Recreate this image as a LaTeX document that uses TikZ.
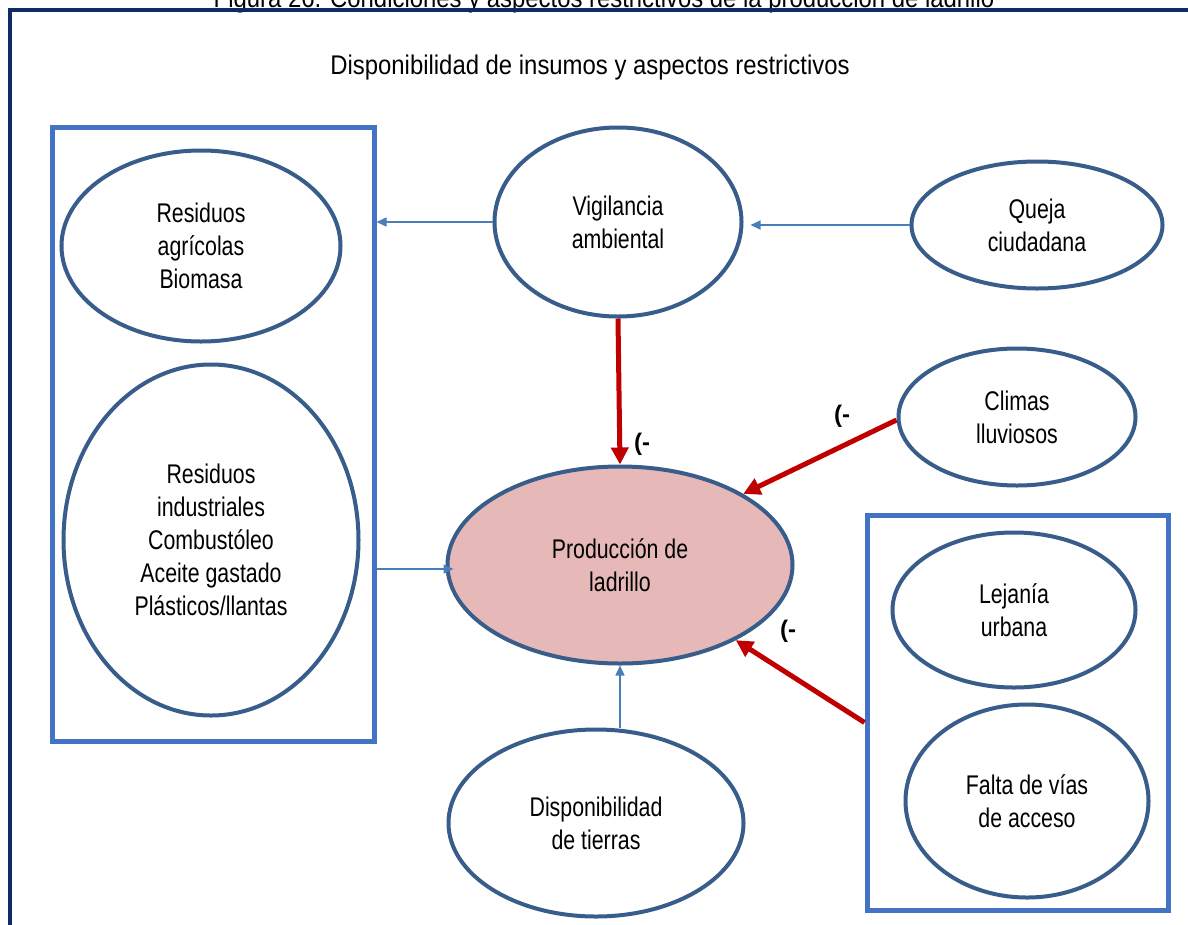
\documentclass[tikz,border=0pt]{standalone}
\usepackage{fontspec}
\setmainfont{Liberation Sans}[FakeStretch=0.79]
\newfontfamily\subfont{Liberation Sans}[FakeStretch=0.885]
\newfontfamily\signfont{Liberation Sans}
\usetikzlibrary{shapes.geometric,arrows.meta,calc}
\definecolor{ellblue}{HTML}{385D8A}
\definecolor{boxblue}{HTML}{4472C4}
\definecolor{frameblue}{HTML}{0F2A64}
\definecolor{arrred}{HTML}{C00000}
\definecolor{prodfill}{HTML}{E6B9B8}
\definecolor{thinblue}{HTML}{4A7EBB}
\begin{document}
\begin{tikzpicture}[x=1pt,y=-1pt,
  oval/.style={ellipse, draw=ellblue, line width=4pt, fill=white, inner sep=0pt, align=center, font=\fontsize{27}{33}\selectfont},
  groupbox/.style={draw=boxblue, line width=5pt, inner sep=0pt},
  thinarrow/.style={draw=thinblue, line width=1.5pt, -{Triangle[length=10pt,width=9pt]}},
  negarrow/.style={draw=arrred, line width=5pt, -{Triangle[length=17pt,width=17pt]}},
  signlabel/.style={font=\signfont\bfseries\fontsize{24}{28}\selectfont}
]
\useasboundingbox (0,0) rectangle (1188,924);
\begin{scope}
\clip (0,0) rectangle (1188,924);
\fill[white] (0,0) rectangle (1188,924);
\node[anchor=base, font=\subfont\fontsize{27}{33}\selectfont, inner sep=0pt] (title) at (604,7) {Figura 26. Condiciones y aspectos restrictivos de la producción de ladrillo};
\draw[frameblue, line width=4pt] (10,10) rectangle (1210,950);
\node[anchor=base, font=\subfont\fontsize{27}{33}\selectfont, inner sep=0pt] (subtitle) at (590,74) {Disponibilidad de insumos y aspectos restrictivos};

\node[groupbox, minimum width=322, minimum height=614] (lbox) at (213,434) {};
\node[groupbox, minimum width=301, minimum height=395] (rbox) at (1017.5,712.5) {};

\node[oval, minimum width=279, minimum height=191] (ra) at (201,246) {Residuos\\agrícolas\\Biomasa};
\node[oval, minimum width=295, minimum height=351] (ri) at (211,540) {Residuos\\industriales\\Combustóleo\\Aceite gastado\\Plásticos/llantas};
\node[oval, minimum width=247, minimum height=189] (vig) at (618,222) {Vigilancia\\ambiental};
\node[oval, minimum width=251, minimum height=127] (queja) at (1037,225) {Queja\\ciudadana};
\node[oval, minimum width=237, minimum height=137] (clim) at (1017,417) {Climas\\lluviosos};
\node[oval, fill=prodfill, minimum width=345, minimum height=197] (prod) at (620,565) {Producción de\\ladrillo};
\node[oval, minimum width=243, minimum height=155] (lej) at (1014,610) {Lejanía\\urbana};
\node[oval, minimum width=243, minimum height=193] (falta) at (1027,801) {Falta de vías\\de acceso};
\node[oval, minimum width=295, minimum height=187] (tierras) at (596,823) {Disponibilidad\\de tierras};

\draw[thinarrow] (vig.west) -- (vig.west -| lbox.east);
\draw[thinarrow] (queja.west) -- ($(queja.west -| vig.east)+(7,0)$);
\draw[thinarrow] ($(lbox.east |- prod.west)+(0,4)$) -- ($(prod.west)+(8,4)$);
\draw[thinarrow] (prod.south |- tierras.north) -- (prod.south);

\draw[negarrow] (vig.south) -- (prod.north);
\draw[negarrow] ($(clim.west)+(0,3)$) -- (prod.30);
\draw[negarrow] ($(rbox.west)+(0,10)$) -- (prod.-33);

\node[signlabel] (s1) at (642,444) {(-};
\node[signlabel] (s2) at (842,416) {(-};
\node[signlabel] (s3) at (788,631) {(-};
\end{scope}
\end{tikzpicture}
\end{document}
